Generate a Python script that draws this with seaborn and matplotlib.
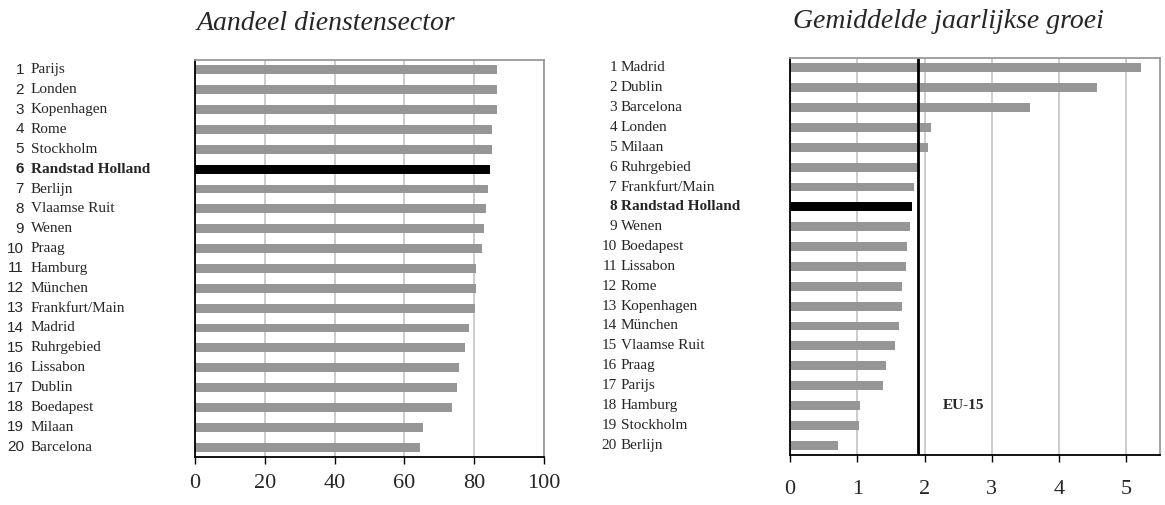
import pandas as pd
import matplotlib.pyplot as plt
import matplotlib.transforms as mtransforms
import seaborn as sns

# Aandeel dienstensector (%), gesorteerd
share_regions = ['Parijs', 'Londen', 'Kopenhagen', 'Rome', 'Stockholm',
                 'Randstad Holland', 'Berlijn', 'Vlaamse Ruit', 'Wenen', 'Praag',
                 'Hamburg', 'München', 'Frankfurt/Main', 'Madrid', 'Ruhrgebied',
                 'Lissabon', 'Dublin', 'Boedapest', 'Milaan', 'Barcelona']
share_values = [86.5, 86.5, 86.5, 85.1, 85.1, 84.5, 84.0, 83.4, 82.8, 82.2,
                80.5, 80.5, 80.2, 78.5, 77.4, 75.6, 75.1, 73.6, 65.3, 64.5]
share_ticks = [0, 20, 40, 60, 80, 100]

# Gemiddelde jaarlijkse groei (%)
growth_regions = ['Madrid', 'Dublin', 'Barcelona', 'Londen', 'Milaan',
                  'Ruhrgebied', 'Frankfurt/Main', 'Randstad Holland', 'Wenen', 'Boedapest',
                  'Lissabon', 'Rome', 'Kopenhagen', 'München', 'Vlaamse Ruit',
                  'Praag', 'Parijs', 'Hamburg', 'Stockholm', 'Berlijn']
growth_values = [5.22, 4.57, 3.57, 2.09, 2.05, 1.93, 1.84, 1.81, 1.78, 1.74,
                 1.72, 1.66, 1.66, 1.62, 1.56, 1.42, 1.38, 1.04, 1.02, 0.71]
growth_ticks = [0, 1, 2, 3, 4, 5]

eu15_growth = 1.9
highlight = 'Randstad Holland'

sns.set_style('white')
plt.rcParams['font.family'] = ['Liberation Serif', 'DejaVu Serif']

fig = plt.figure(figsize=(11.65, 5.05), dpi=100)
ax1 = fig.add_axes([195 / 1165, 1 - 457 / 505, 349 / 1165, 397 / 505])
ax2 = fig.add_axes([790 / 1165, 1 - 455 / 505, 370 / 1165, 397 / 505])


def draw_panel(ax, regions, values, xmax, ticks, num_x, name_x, num_family, pad):
    df = pd.DataFrame({'region': regions, 'value': values})
    df['kleur'] = ['rh' if r == highlight else 'overig' for r in regions]
    sns.barplot(data=df, x='value', y='region', hue='kleur',
                palette={'rh': 'black', 'overig': '#969696'},
                width=0.45, dodge=False, legend=False, saturation=1,
                linewidth=0, ax=ax)
    ax.set_xlim(0, xmax)
    ax.set_ylim(len(regions) - 0.5, -0.5)
    ax.set_xticks(ticks)
    ax.set_xticklabels([str(t) for t in ticks])
    ax.set_yticks([])
    ax.set_xlabel('')
    ax.set_ylabel('')
    ax.xaxis.grid(True, color='#c8c8c8', linewidth=1.3)
    ax.set_axisbelow(True)
    ax.tick_params(axis='x', bottom=True, direction='out', length=5, width=1,
                   color='black', labelsize=16, pad=pad)
    for side in ['top', 'right']:
        ax.spines[side].set_color('#9a9a9a')
        ax.spines[side].set_linewidth(1.3)
    for side in ['bottom', 'left']:
        ax.spines[side].set_color('black')
        ax.spines[side].set_linewidth(1.3)

    # labels met rangnummer links van de as
    trans = mtransforms.blended_transform_factory(fig.transFigure, ax.transData)
    for i, r in enumerate(regions):
        weight = 'bold' if r == highlight else 'normal'
        ax.text(num_x / 1165, i, str(i + 1), transform=trans, ha='right', va='center',
                fontsize=11, family=num_family, fontweight=weight)
        ax.text(name_x / 1165, i, r, transform=trans, ha='left', va='center',
                fontsize=11, fontweight=weight)


draw_panel(ax1, share_regions, share_values, 100, share_ticks, 24, 31,
           ['Liberation Sans', 'DejaVu Sans'], 7)
draw_panel(ax2, growth_regions, growth_values, 5.5, growth_ticks, 617, 621,
           ['Liberation Serif', 'DejaVu Serif'], 13)

ax2.axvline(eu15_growth, color='black', linewidth=2)
ax2.text(2.27, 17, 'EU-15', ha='left', va='center', fontsize=11, fontweight='bold')

fig.text(326 / 1165, 1 - 24 / 505, 'Aandeel dienstensector', ha='center', va='center',
         fontsize=20, style='italic')
fig.text(948 / 1165, 1 - 22 / 505, 'Gemiddelde jaarlijkse groei', ha='center', va='center',
         fontsize=20, style='italic')

fig.savefig('out.png', dpi=100)
